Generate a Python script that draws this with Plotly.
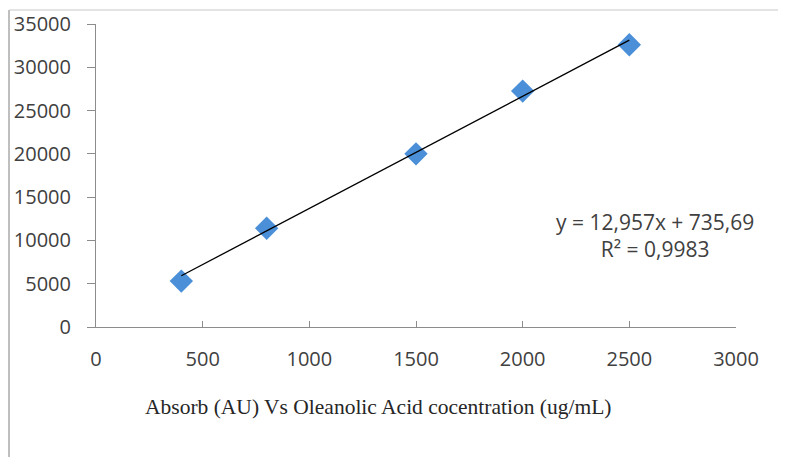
import plotly.graph_objects as go

# Data
conc = [400, 800, 1500, 2000, 2500]
absorb = [5300, 11400, 20000, 27250, 32600]
slope = 12.957
intercept = 735.69
x_ticks = [0, 500, 1000, 1500, 2000, 2500, 3000]
y_ticks = [0, 5000, 10000, 15000, 20000, 25000, 30000, 35000]
eq_text = "y = 12,957x + 735,69<br>R² = 0,9983"
x_title = "Absorb (AU) Vs Oleanolic Acid cocentration (ug/mL)"

trend_x = [conc[0], conc[-1]]
trend_y = [slope * v + intercept for v in trend_x]

OFF = 8  # page body margin
W, H = 786 - OFF, 457 - OFF
L, R, T, B = 96 - OFF, 50, 24 - OFF, 130
pw, ph = W - L - R, H - T - B

def px(xp):
    return (xp - OFF - L) / pw

def py(yp):
    return (H - B - (yp - OFF)) / ph

fig = go.Figure()
fig.add_trace(go.Scatter(
    x=conc, y=absorb, mode="markers",
    marker=dict(symbol="diamond", size=18, color="#4a8fd8",
                line=dict(width=0)),
    showlegend=False, hoverinfo="x+y"))
fig.add_trace(go.Scatter(
    x=trend_x, y=trend_y, mode="lines",
    line=dict(color="#000000", width=1.3),
    showlegend=False, hoverinfo="skip"))

tick_font = dict(family="Open Sans, Noto Sans, sans-serif", size=20, color="#404040")

fig.update_layout(
    width=W, height=H,
    margin=dict(l=L, r=R, t=T, b=B, pad=0, autoexpand=False),
    paper_bgcolor="white", plot_bgcolor="white",
    xaxis=dict(range=[0, 3000], tickvals=x_ticks, ticktext=[str(v) for v in x_ticks],
               showline=True, linecolor="#8c8c8c", linewidth=1,
               ticks="inside", ticklen=6, tickcolor="#8c8c8c",
               showgrid=False, zeroline=False, tickfont=tick_font,
               ticklabelstandoff=14, automargin=False),
    yaxis=dict(range=[0, 35000], tickvals=y_ticks, ticktext=[str(v) for v in y_ticks],
               showline=True, linecolor="#8c8c8c", linewidth=1,
               ticks="outside", ticklen=8, tickcolor="#8c8c8c",
               showgrid=False, zeroline=False, tickfont=tick_font,
               ticklabelstandoff=12, automargin=False),
    annotations=[
        dict(text=eq_text, xref="paper", yref="paper", x=px(655), y=py(235),
             xanchor="center", yanchor="middle", showarrow=False, align="center",
             font=dict(family="Open Sans, Noto Sans, sans-serif", size=21, color="#404040")),
        dict(text=x_title, xref="paper", yref="paper", x=px(378), y=py(407),
             xanchor="center", yanchor="middle", showarrow=False,
             font=dict(family="Liberation Serif, serif", size=21.5, color="#262626")),
    ],
    shapes=[
        dict(type="line", xref="paper", yref="paper", x0=px(9), x1=px(9),
             y0=py(10), y1=py(457), line=dict(color="#7f7f7f", width=1)),
        dict(type="line", xref="paper", yref="paper", x0=px(9), x1=px(786),
             y0=py(10), y1=py(10), line=dict(color="#c8c8c8", width=1)),
    ],
)

fig.write_html("out.html")
